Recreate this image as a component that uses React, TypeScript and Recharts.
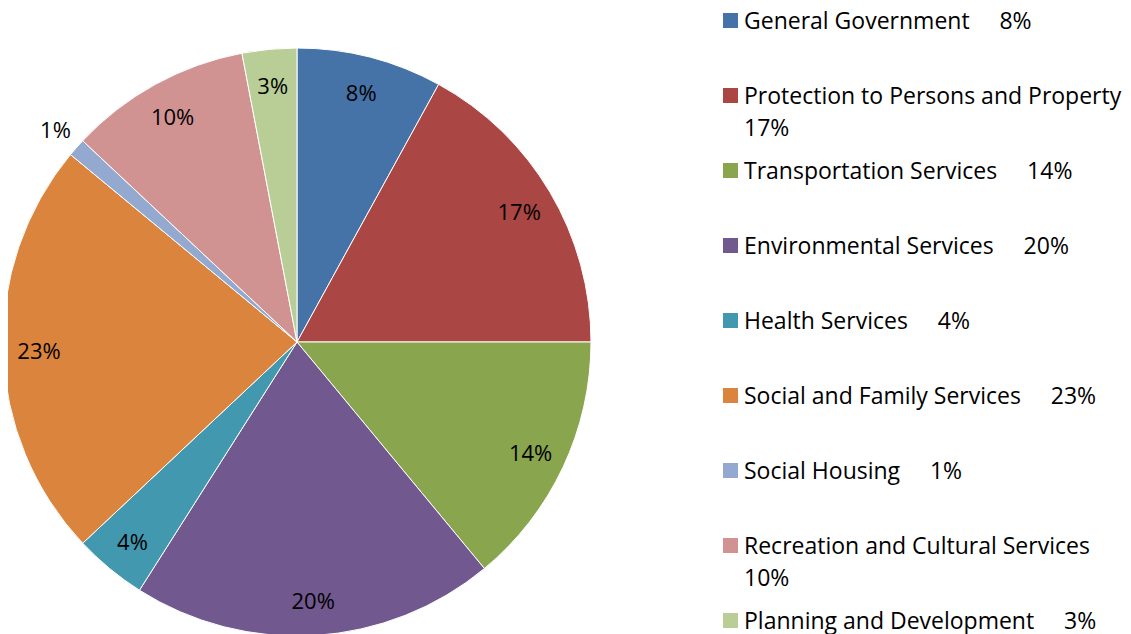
import React from "react";
import { PieChart, Pie, Cell, Legend } from "recharts";

const categories = [
  "General Government",
  "Protection to Persons and Property",
  "Transportation Services",
  "Environmental Services",
  "Health Services",
  "Social and Family Services",
  "Social Housing",
  "Recreation and Cultural Services",
  "Planning and Development",
];
const shares = [8, 17, 14, 20, 4, 23, 1, 10, 3];
const colors = [
  "#4572A7",
  "#AA4643",
  "#89A54E",
  "#71588F",
  "#4198AF",
  "#DB843D",
  "#93A9CF",
  "#D19392",
  "#B9CD96",
];

const data = categories.map((name, i) => ({ name, value: shares[i] }));

const FONT = "'Open Sans', sans-serif";
const RAD = Math.PI / 180;

const renderLabel = (props: any) => {
  const { cx, cy, midAngle, outerRadius, value } = props;
  const r = value < 2 ? outerRadius + 28 : outerRadius * 0.878;
  const x = cx + r * Math.cos(-midAngle * RAD);
  const y = cy + r * Math.sin(-midAngle * RAD);
  return (
    <text
      x={x}
      y={y}
      textAnchor="middle"
      dominantBaseline="central"
      fontFamily={FONT}
      fontSize={22}
      fill="#000"
    >
      {`${value}%`}
    </text>
  );
};

const LegendContent = () => (
  <div style={{ position: "relative", width: 400, height: 630, fontFamily: FONT, fontSize: 23, color: "#000" }}>
    {data.map((d, i) => (
      <div
        key={d.name}
        style={{ position: "absolute", left: 0, top: i * 75, width: 400, lineHeight: "32px" }}
      >
        <span
          style={{
            position: "absolute",
            left: 0,
            top: 9,
            width: 15,
            height: 15,
            background: colors[i],
          }}
        />
        <div style={{ marginLeft: 21, whiteSpace: "pre-wrap", width: 382 }}>
          {`${d.name}     ${d.value}%`}
        </div>
      </div>
    ))}
  </div>
);

export default function App() {
  return (
    <div style={{ margin: "-8px 0 0 -8px" }}>
      <PieChart width={1131} height={634} margin={{ top: 0, right: 0, bottom: 0, left: 0 }}>
        <Pie
          data={data}
          dataKey="value"
          nameKey="name"
          cx={297}
          cy={342}
          outerRadius={294}
          startAngle={90}
          endAngle={-270}
          stroke="#ffffff"
          strokeWidth={1}
          label={renderLabel}
          labelLine={false}
          isAnimationActive={false}
        >
          {data.map((d, i) => (
            <Cell key={d.name} fill={colors[i]} />
          ))}
        </Pie>
        <Legend
          content={<LegendContent />}
          wrapperStyle={{ position: "absolute", left: 723, top: 4, width: 404 }}
        />
      </PieChart>
    </div>
  );
}
